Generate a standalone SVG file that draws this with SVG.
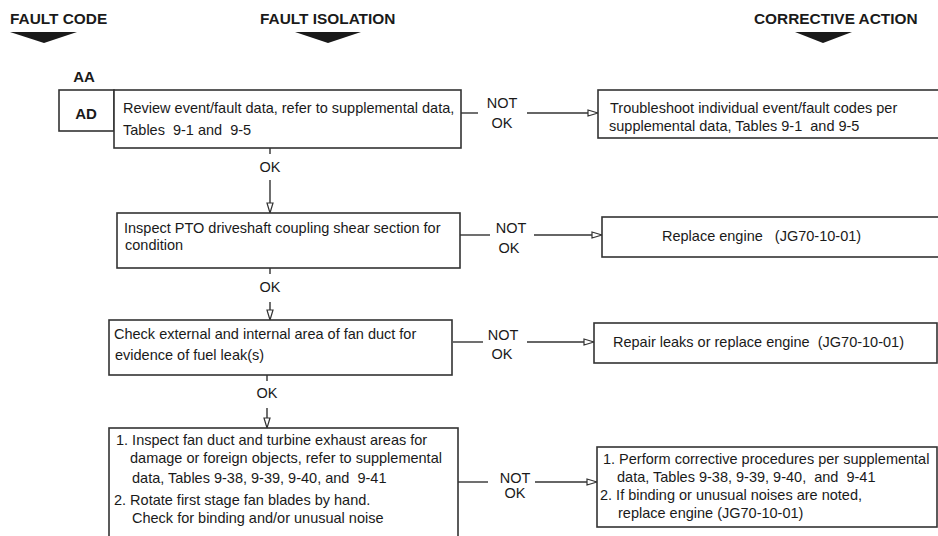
<svg xmlns="http://www.w3.org/2000/svg" width="938" height="536" viewBox="0 0 938 536" xml:space="preserve">
<defs>
<style>
text{font-family:"Liberation Sans",Arial,sans-serif;fill:#1a1a1a;font-size:14.5px;white-space:pre}
.h{font-weight:bold;font-size:15.4px}
.b{font-weight:bold;font-size:15px}
.box{fill:#fff;stroke:#333;stroke-width:1.6}
.ln{stroke:#333;stroke-width:1.4;fill:none}
.hd{fill:#1a1a1a}
</style>
<marker id="arr" viewBox="0 0 12 8" refX="11" refY="4" markerWidth="12" markerHeight="8" markerUnits="userSpaceOnUse" orient="auto">
<path d="M1,1 L11,4 L1,7 Z" fill="#fff" stroke="#333" stroke-width="1.2"/>
</marker>
</defs>
<rect width="938" height="536" fill="#fff"/>
<g id="headers">
<text class="h" x="10" y="24">FAULT CODE</text>
<polygon class="hd" points="10,32 77,32 44,43"/>
<text class="h" x="260" y="24">FAULT ISOLATION</text>
<polygon class="hd" points="295,32 361,32 328,43"/>
<text class="h" x="754" y="24">CORRECTIVE ACTION</text>
<polygon class="hd" points="795,32 852,32 823,43"/>
</g>
<g id="connectors">
<line class="ln" x1="461" y1="113" x2="478" y2="113"/>
<line class="ln" x1="527" y1="113" x2="598" y2="113" marker-end="url(#arr)"/>
<line class="ln" x1="270" y1="148" x2="270" y2="154"/>
<line class="ln" x1="270" y1="180" x2="270" y2="213" marker-end="url(#arr)"/>
<line class="ln" x1="460" y1="235" x2="490" y2="235"/>
<line class="ln" x1="534" y1="235" x2="602" y2="235" marker-end="url(#arr)"/>
<line class="ln" x1="270" y1="268" x2="270" y2="274"/>
<line class="ln" x1="270" y1="302" x2="270" y2="320" marker-end="url(#arr)"/>
<line class="ln" x1="453" y1="342" x2="483" y2="342"/>
<line class="ln" x1="527" y1="342" x2="594" y2="342" marker-end="url(#arr)"/>
<line class="ln" x1="267" y1="375" x2="267" y2="381"/>
<line class="ln" x1="267" y1="408" x2="267" y2="428" marker-end="url(#arr)"/>
<line class="ln" x1="458" y1="482" x2="488" y2="482"/>
<line class="ln" x1="535" y1="482" x2="597" y2="482" marker-end="url(#arr)"/>
<text x="270" y="172" text-anchor="middle">OK</text>
<text x="270" y="292" text-anchor="middle">OK</text>
<text x="267" y="398" text-anchor="middle">OK</text>
<text x="502" y="108" text-anchor="middle">NOT</text>
<text x="502" y="128" text-anchor="middle">OK</text>
<text x="511" y="233" text-anchor="middle">NOT</text>
<text x="509" y="253" text-anchor="middle">OK</text>
<text x="503" y="340" text-anchor="middle">NOT</text>
<text x="502" y="359" text-anchor="middle">OK</text>
<text x="515" y="483" text-anchor="middle">NOT</text>
<text x="515" y="498" text-anchor="middle">OK</text>
</g>
<g id="code">
<text class="b" x="84" y="82" text-anchor="middle">AA</text>
<rect class="box" x="59" y="90" width="55" height="41"/>
<text class="b" x="86" y="119" text-anchor="middle">AD</text>
</g>
<g id="step1">
<rect class="box" x="114" y="90" width="347" height="58"/>
<text x="123" y="113">Review event/fault data, refer to supplemental data,</text>
<text x="123" y="135">Tables  9-1 and  9-5</text>
</g>
<g id="action1">
<rect class="box" x="598" y="90" width="345" height="48"/>
<text x="610" y="113">Troubleshoot individual event/fault codes per</text>
<text x="609" y="131">supplemental data, Tables 9-1  and 9-5</text>
</g>
<g id="step2">
<rect class="box" x="117" y="213" width="343" height="55"/>
<text x="124" y="233">Inspect PTO driveshaft coupling shear section for</text>
<text x="125" y="250">condition</text>
</g>
<g id="action2">
<rect class="box" x="602" y="217" width="340" height="40"/>
<text x="662" y="241">Replace engine   (JG70-10-01)</text>
</g>
<g id="step3">
<rect class="box" x="109" y="320" width="343" height="55"/>
<text x="114" y="339">Check external and internal area of fan duct for</text>
<text x="115" y="360">evidence of fuel leak(s)</text>
</g>
<g id="action3">
<rect class="box" x="594" y="323" width="343" height="40"/>
<text x="613" y="347">Repair leaks or replace engine  (JG70-10-01)</text>
</g>
<g id="step4">
<rect class="box" x="109" y="428" width="349" height="115"/>
<text x="116" y="445">1. Inspect fan duct and turbine exhaust areas for</text>
<text x="130" y="463">damage or foreign objects, refer to supplemental</text>
<text x="132" y="483">data, Tables 9-38, 9-39, 9-40, and  9-41</text>
<text x="114" y="505">2. Rotate first stage fan blades by hand.</text>
<text x="132" y="523">Check for binding and/or unusual noise</text>
</g>
<g id="action4">
<rect class="box" x="597" y="447" width="340" height="80"/>
<text x="603" y="464">1. Perform corrective procedures per supplemental</text>
<text x="617" y="482">data, Tables 9-38, 9-39, 9-40,  and  9-41</text>
<text x="600" y="500">2. If binding or unusual noises are noted,</text>
<text x="618" y="518">replace engine (JG70-10-01)</text>
</g>
</svg>
